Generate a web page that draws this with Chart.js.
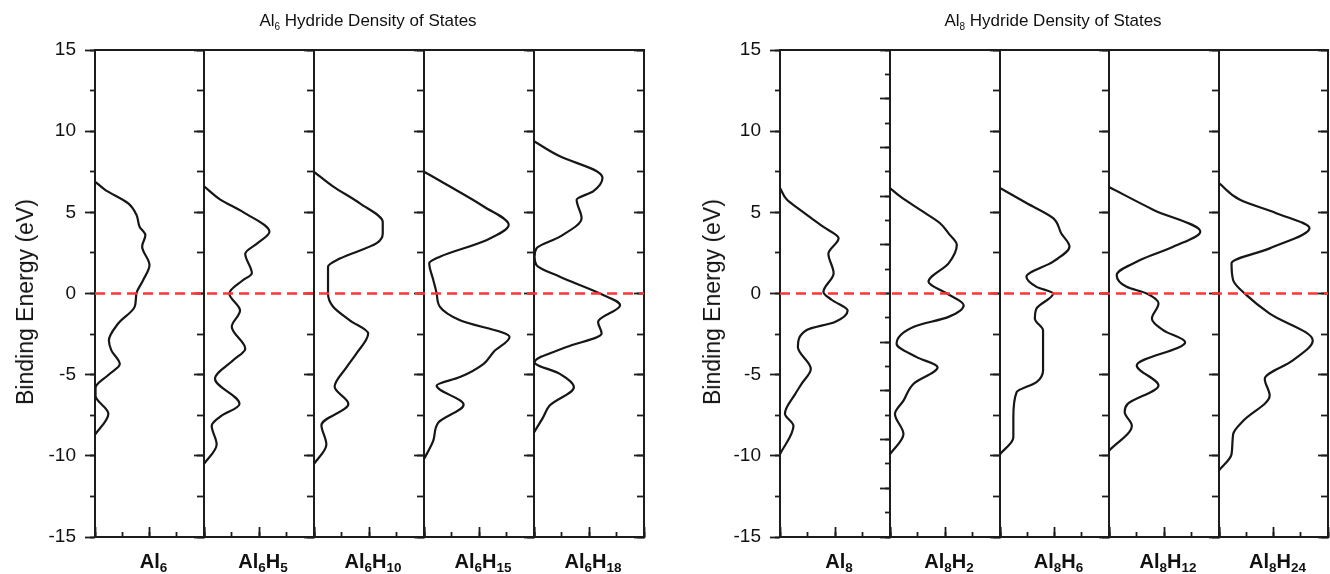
<!DOCTYPE html>
<html>
<head>
<meta charset="utf-8">
<script src="https://cdn.jsdelivr.net/npm/chart.js@4.4.1/dist/chart.umd.min.js"></script>
<style>
    body { margin: 0; background: #fff; width: 1330px; height: 574px; position: relative; overflow: hidden;
           font-family: "Liberation Sans", Arial, sans-serif; color: #111; }
    canvas { position: absolute; }
    .title { position: absolute; top: 11px; font-size: 17px; line-height: 20px; white-space: nowrap; transform: translateX(-50%); }
    .title span { font-size: 10px; position: relative; top: 4px; }
    .ytitle { position: absolute; font-size: 23px; line-height: 26px; white-space: nowrap; transform: translate(-50%, -50%) rotate(-90deg); }
    .lab { position: absolute; top: 551px; font-size: 20px; line-height: 20px; font-weight: bold; white-space: nowrap; transform: translateX(-50%); }
    .lab span { font-size: 13.5px; position: relative; top: 4px; }
</style>
</head>
<body>
<script>
// ---- data (energies in eV from bottom to top, DOS in arbitrary units, panel width = 4) ----
const yTickValues = [-15, -10, -5, 0, 5, 10, 15];
const al6Names = ['Al6', 'Al6H5', 'Al6H10', 'Al6H15', 'Al6H18'];
const al8Names = ['Al8', 'Al8H2', 'Al8H6', 'Al8H12', 'Al8H24'];

const al6E    = [-8.7, -7.4, -6.3, -5.8, -5.0, -4.35, -3.5, -2.9, -1.85, -0.8, 0, 0.8, 1.75, 2.9, 3.6, 4.1, 4.85, 5.55, 6.4, 6.9];
const al6D    = [0, 0.49, 0.02, 0.02, 0.5, 0.91, 0.6, 0.51, 0.85, 1.46, 1.52, 1.76, 2.0, 1.73, 1.85, 1.64, 1.52, 1.22, 0.36, 0];
const al6h5E  = [-10.5, -9.3, -8.15, -7.6, -6.8, -5.25, -4.1, -3.4, -2.05, -1.05, 0, 0.8, 1.25, 2.45, 3.1, 3.8, 5.0, 5.8, 6.6];
const al6h5D  = [0, 0.46, 0.28, 0.58, 1.29, 0.4, 1.07, 1.5, 1.01, 1.31, 0.92, 1.4, 1.74, 1.5, 1.95, 2.38, 1.44, 0.58, 0];
const al6h10E = [-10.5, -9.3, -8.1, -6.8, -5.75, -4.55, -3.7, -2.47, -1.65, -0.8, 0, 1.65, 2.15, 3.1, 3.7, 4.4, 5.55, 6.6, 7.5];
const al6h10D = [0, 0.45, 0.27, 1.25, 0.75, 1.18, 1.54, 1.97, 1.3, 0.69, 0.51, 0.51, 0.94, 2.28, 2.5, 2.5, 1.67, 0.69, 0];
const al6h15E = [-10.2, -9.05, -7.95, -6.85, -5.67, -5.15, -4.33, -3.6, -2.68, -1.65, -0.82, 0, 0.82, 1.86, 2.27, 3.3, 4.23, 5.36, 6.7, 7.5];
const al6h15D = [0, 0.34, 0.52, 1.44, 0.46, 1.31, 2.17, 2.53, 3.11, 1.31, 0.58, 0.46, 0.34, 0.19, 0.58, 2.29, 3.08, 2.17, 0.83, 0];
const al6h18E = [-8.56, -7.63, -6.9, -5.77, -4.95, -4.23, -3.3, -2.47, -1.75, -0.72, 0, 1.03, 1.75, 2.27, 2.78, 3.5, 4.64, 5.77, 6.29, 7.11, 7.53, 8.45, 9.38];
const al6h18D = [0, 0.33, 0.57, 1.45, 0.94, 0.02, 1.18, 2.46, 2.33, 3.13, 2.4, 0.94, 0.09, 0.02, 0.09, 0.94, 1.73, 1.55, 2.15, 2.49, 2.28, 0.94, 0];

const al8E    = [-9.9, -8.15, -7.4, -6.2, -5.55, -4.65, -3.3, -2.25, -1.75, -1.05, -0.4, 0.1, 1.25, 2.45, 3.4, 4.1, 5.15, 5.8, 6.5];
const al8D    = [0, 0.49, 0.18, 0.55, 0.79, 1.12, 0.65, 0.97, 2.0, 2.46, 1.89, 1.58, 1.95, 1.76, 2.13, 1.58, 0.73, 0.24, 0];
const al8h2E  = [-9.9, -8.66, -7.42, -6.6, -5.57, -4.54, -3.92, -3.09, -2.06, -1.44, -0.72, 0, 0.72, 1.86, 3.0, 3.7, 4.33, 5.15, 5.98, 6.5];
const al8h2D  = [0, 0.49, 0.18, 0.49, 0.85, 1.73, 0.97, 0.24, 0.85, 2.13, 2.68, 2.07, 1.4, 2.13, 2.43, 2.13, 1.82, 1.1, 0.37, 0];
const al8h6E  = [-9.9, -8.87, -7.63, -6.08, -5.46, -4.74, -2.27, -1.55, -0.93, 0, 0.41, 1.03, 1.96, 2.89, 3.7, 4.64, 5.57, 6.5];
const al8h6D  = [0, 0.49, 0.49, 0.61, 1.34, 1.58, 1.58, 1.28, 1.34, 1.95, 1.34, 0.97, 1.95, 2.55, 2.25, 1.95, 0.97, 0];
const al8h12E = [-9.69, -8.14, -7.3, -6.8, -5.67, -4.43, -3.0, -2.27, -1.55, -0.62, 0, 0.41, 1.13, 2.06, 2.89, 3.81, 5.15, 6.56];
const al8h12D = [0, 0.83, 0.57, 0.68, 1.8, 1.01, 2.77, 1.98, 1.56, 1.8, 1.37, 0.64, 0.28, 1.13, 2.35, 3.32, 1.62, 0];
const al8h24E = [-10.9, -9.9, -8.66, -7.84, -6.29, -5.26, -4.12, -2.89, -1.24, -0.1, 0.82, 1.86, 2.78, 4.02, 4.95, 5.77, 6.8];
const al8h24D = [0, 0.46, 0.52, 0.89, 1.86, 1.68, 2.71, 3.44, 1.86, 1.01, 0.52, 0.46, 1.86, 3.32, 2.1, 0.77, 0];

// ---- layout ----
const plotTop = 50, plotBottom = 537;
const axisColor = '#1c1c1c';
const fontFamily = '"Liberation Sans", Arial, sans-serif';

const groups = [
    { title: 'Al6 Hydride Density of States', titleX: 368, yTitleX: 25, names: al6Names,
      edges: [95, 204, 314, 424, 534, 644],
      curves: [[al6E, al6D], [al6h5E, al6h5D], [al6h10E, al6h10D], [al6h15E, al6h15D], [al6h18E, al6h18D]],
      firstRight: [5, 2.5, 10, 7] },
    { title: 'Al8 Hydride Density of States', titleX: 1053, yTitleX: 712, names: al8Names,
      edges: [780, 890, 1000, 1109, 1219, 1328],
      curves: [[al8E, al8D], [al8h2E, al8h2D], [al8h6E, al8h6D], [al8h12E, al8h12D], [al8h24E, al8h24D]],
      firstRight: [3, 1.5, 10, 5] }
];

const sub = s => s.replace(/(\d+)/g, '<span>$1</span>');

function fixSize(n) {
    return s => { if (s.isHorizontal()) s.height = n; else s.width = n; };
}
function tickGrid(len) {
    return { display: true, drawOnChartArea: false, drawTicks: true, tickLength: len, tickWidth: 1.8, tickColor: axisColor };
}
const border = { display: true, color: axisColor, width: 2 };
const noBorder = { display: false };

function drawPanel(left, right, first, energy, dos, rSteps, dashOffset) {
    // generous top/bottom padding so the tick labels never push the plot area
    const padL = first ? 60 : 2, padR = 3, padT = 26, padB = 26;
    const w = right - left + padL + padR;
    const h = plotBottom - plotTop + padT + padB;
    const cv = document.createElement('canvas');
    cv.width = w; cv.height = h;
    cv.style.left = (left - padL) + 'px';
    cv.style.top = (plotTop - padT) + 'px';
    cv.style.width = w + 'px';
    cv.style.height = h + 'px';
    document.body.appendChild(cv);

    const scales = {
        x: { type: 'linear', position: 'bottom', min: 0, max: 4, afterFit: fixSize(0),
             ticks: { display: false, stepSize: 2 }, grid: tickGrid(-10), border: border },
        xm: { type: 'linear', position: 'bottom', min: 0, max: 4, afterFit: fixSize(0),
              ticks: { display: false, stepSize: 1 }, grid: tickGrid(-5), border: noBorder },
        xt: { type: 'linear', position: 'top', min: 0, max: 4, afterFit: fixSize(0),
              ticks: { display: false }, grid: { display: false, drawTicks: false }, border: border },
        y: { type: 'linear', position: 'right', min: -15, max: 15, weight: 1, afterFit: fixSize(0),
             ticks: { display: false, stepSize: rSteps[0] }, grid: tickGrid(-rSteps[2]), border: border },
        yrm: { type: 'linear', position: 'right', min: -15, max: 15, weight: 0, afterFit: fixSize(0),
               ticks: { display: false, stepSize: rSteps[1] }, grid: tickGrid(-rSteps[3]), border: noBorder }
    };
    if (first) {
        scales.yl = { type: 'linear', position: 'left', min: -15, max: 15, weight: 1, afterFit: fixSize(padL),
                      afterBuildTicks: s => { s.ticks = yTickValues.map(v => ({ value: v })); },
                      ticks: { font: { family: fontFamily, size: 19 }, color: '#111', padding: 9 },
                      grid: tickGrid(10), border: border };
        scales.ylm = { type: 'linear', position: 'left', min: -15, max: 15, weight: 0, afterFit: fixSize(0),
                       ticks: { display: false, stepSize: 2.5 }, grid: tickGrid(5), border: noBorder };
    }

    new Chart(cv, {
        type: 'line',
        data: {
            datasets: [
                { data: [{ x: 0, y: 0 }, { x: 4, y: 0 }], borderColor: '#ff3535', borderWidth: 2.6,
                  borderDash: [10, 6], borderDashOffset: dashOffset, pointRadius: 0, tension: 0, order: 0,
                  xAxisID: 'x', yAxisID: 'y' },
                { data: energy.map((e, i) => ({ x: dos[i], y: e })), borderColor: '#161616', borderWidth: 2.2,
                  pointRadius: 0, cubicInterpolationMode: 'monotone', order: 1, xAxisID: 'x', yAxisID: 'y' }
            ]
        },
        options: {
            indexAxis: 'y',
            responsive: false,
            animation: false,
            events: [],
            layout: { autoPadding: false, padding: { left: first ? 0 : padL, right: padR, top: padT, bottom: padB } },
            plugins: { legend: { display: false }, tooltip: { enabled: false } },
            scales: scales
        }
    });
}

function addText(cls, html, x, y) {
    const d = document.createElement('div');
    d.className = cls;
    d.innerHTML = html;
    d.style.left = x + 'px';
    if (y !== undefined) d.style.top = y + 'px';
    document.body.appendChild(d);
}

groups.forEach(g => {
    g.curves.forEach((c, i) => {
        const left = g.edges[i], right = g.edges[i + 1];
        const rSteps = i === 0 ? g.firstRight : [5, 2.5, 10, 7];
        drawPanel(left, right, i === 0, c[0], c[1], rSteps, (left - g.edges[0]) % 16);
        addText('lab', sub(g.names[i]), (left + right) / 2 + 4);
    });
    addText('title', sub(g.title.split(' ')[0]) + ' ' + g.title.split(' ').slice(1).join(' '), g.titleX);
    addText('ytitle', 'Binding Energy (eV)', g.yTitleX, 302);
});
</script>
</body>
</html>
